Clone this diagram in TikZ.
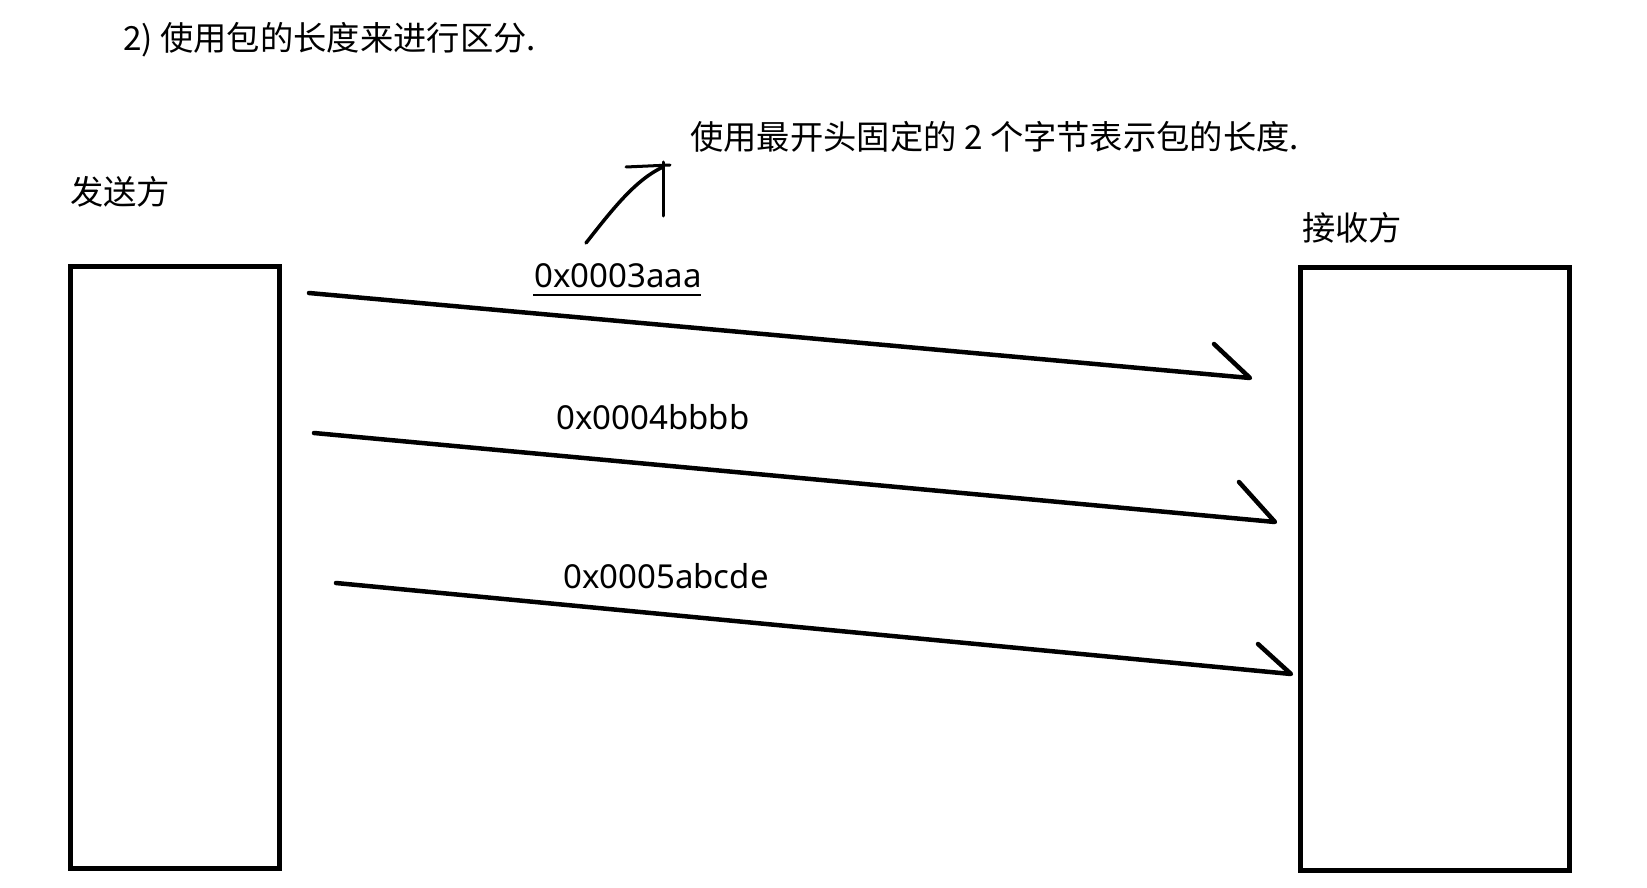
\documentclass[tikz,border=0pt]{standalone}
\usepackage{fontspec}
\setmainfont{Noto Sans CJK SC}
\newfontfamily\latfont{Noto Sans}
\begin{document}
\begin{tikzpicture}[x=1pt,y=-1pt,
  stroke/.style={line width=4.5pt, line cap=round, line join=round},
  box/.style={draw, line width=5pt, inner sep=0pt, outer sep=0pt},
  cjktext/.style={inner sep=0pt, font=\fontsize{33.3}{40}\selectfont},
  titletext/.style={inner sep=0pt, font=\fontsize{33.3}{42}\selectfont},
  lbl/.style={inner sep=0pt, anchor=base, font=\latfont\fontsize{33}{38}\selectfont}]
\useasboundingbox[fill=white] (0,0) rectangle (1647,888);

\node[titletext, anchor=west] (title) at (123,40) {2) 使用包的长度来进行区分.};
\node[cjktext, anchor=west] (note) at (690,137) {使用最开头固定的 2 个字节表示包的长度.};
\node[cjktext, anchor=west] (sendlbl) at (70,192) {发送方};
\node[cjktext, anchor=west] (recvlbl) at (1302,228) {接收方};

\node[box, minimum width=209pt, minimum height=602pt] (sender) at (174.5,567) {};
\node[box, minimum width=269pt, minimum height=603pt] (receiver) at (1434.5,568.5) {};

% message 1
\coordinate (s1) at (309,293);
\coordinate (e1) at (1250,378);
\coordinate (h1) at (1214,344);
\draw[stroke] (s1) -- (e1) -- (h1);
\node[lbl] (m1) at (618,287) {0x0003aaa};
\coordinate (u1a) at (533,295);
\coordinate (u1b) at (701,295);
\draw[line width=2pt] (u1a) -- (u1b);

% message 2
\coordinate (s2) at (314,433);
\coordinate (e2) at (1275,522);
\coordinate (h2) at (1239,482);
\draw[stroke] (s2) -- (e2) -- (h2);
\node[lbl] (m2) at (653,429) {0x0004bbbb};

% message 3
\coordinate (s3) at (336,583);
\coordinate (e3) at (1291,674);
\coordinate (h3) at (1258,644);
\draw[stroke] (s3) -- (e3) -- (h3);
\node[lbl] (m3) at (666,588) {0x0005abcde};

% hand-drawn pointer
\coordinate (p0) at (586,243);
\coordinate (p1) at (663,167);
\coordinate (bA) at (626,167);
\coordinate (bB) at (670,165);
\coordinate (vA) at (663,162);
\coordinate (vB) at (663,216);
\draw[line width=3.5pt, line cap=round] (p0) .. controls (612,210) and (635,180) .. (p1);
\draw[line width=3pt, line cap=round] (bA) -- (bB);
\draw[line width=3pt, line cap=round] (vA) -- (vB);
\end{tikzpicture}
\end{document}
